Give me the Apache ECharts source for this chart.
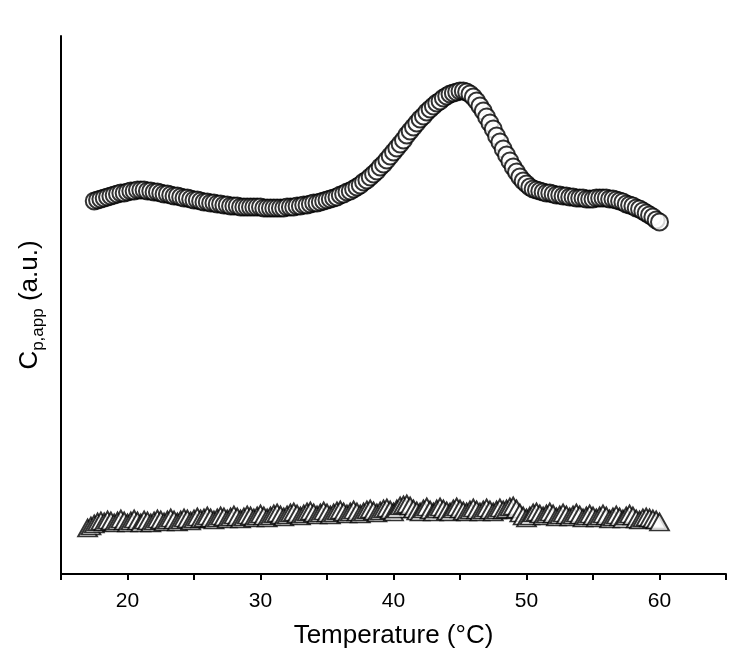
<!DOCTYPE html>
<html>
<head>
<meta charset="utf-8">
<script src="https://cdn.jsdelivr.net/npm/echarts@6/dist/echarts.min.js"></script>
<style>
html,body{margin:0;padding:0;background:#fff;}
#chart{width:750px;height:670px;}
</style>
</head>
<body>
<div id="chart"></div>
<script>
// Circles series (sample)
const circleTemp = [
17.5,17.75,
18,18.25,18.5,18.75,
19,19.25,19.5,19.75,
20,20.25,20.5,20.75,
21,21.25,21.5,21.75,
22,22.25,22.5,22.75,
23,23.25,23.5,23.75,
24,24.25,24.5,24.75,
25,25.25,25.5,25.75,
26,26.25,26.5,26.75,
27,27.25,27.5,27.75,
28,28.25,28.5,28.75,
29,29.25,29.5,29.75,
30,30.25,30.5,30.75,
31,31.25,31.5,31.75,
32,32.25,32.5,32.75,
33,33.25,33.5,33.75,
34,34.25,34.5,34.75,
35,35.25,35.5,35.75,
36,36.25,36.5,36.75,
37,37.25,37.5,37.75,
38,38.25,38.5,38.75,
39,39.25,39.5,39.75,
40,40.25,40.5,40.75,
41,41.25,41.5,41.75,
42,42.25,42.5,42.75,
43,43.25,43.5,43.75,
44,44.25,44.5,44.75,
45,45.25,45.5,45.75,
46,46.25,46.5,46.75,
47,47.25,47.5,47.75,
48,48.25,48.5,48.75,
49,49.25,49.5,49.75,
50,50.25,50.5,50.75,
51,51.25,51.5,51.75,
52,52.25,52.5,52.75,
53,53.25,53.5,53.75,
54,54.25,54.5,54.75,
55,55.25,55.5,55.75,
56,56.25,56.5,56.75,
57,57.25,57.5,57.75,
58,58.25,58.5,58.75,
59,59.25,59.5,59.75,
60];
const circleCp = [
3.73,3.74,
3.75,3.76,3.77,3.78,
3.79,3.80,3.81,3.81,
3.82,3.83,3.83,3.84,
3.84,3.84,3.83,3.83,
3.82,3.82,3.81,3.80,
3.80,3.79,3.78,3.78,
3.77,3.76,3.76,3.75,
3.74,3.74,3.73,3.72,
3.72,3.71,3.71,3.70,
3.70,3.69,3.69,3.68,
3.68,3.68,3.67,3.67,
3.67,3.67,3.67,3.67,
3.67,3.66,3.66,3.66,
3.66,3.66,3.66,3.66,
3.67,3.67,3.67,3.68,
3.68,3.69,3.69,3.70,
3.71,3.71,3.72,3.73,
3.74,3.75,3.76,3.77,
3.79,3.80,3.82,3.83,
3.85,3.87,3.89,3.92,
3.94,3.97,4.00,4.03,
4.07,4.10,4.14,4.18,
4.22,4.26,4.30,4.34,
4.39,4.43,4.47,4.51,
4.55,4.58,4.62,4.65,
4.68,4.71,4.73,4.76,
4.78,4.80,4.81,4.82,
4.83,4.83,4.82,4.80,
4.77,4.73,4.68,4.63,
4.57,4.51,4.45,4.38,
4.32,4.25,4.19,4.13,
4.07,4.02,3.97,3.93,
3.90,3.87,3.85,3.84,
3.83,3.82,3.81,3.81,
3.80,3.79,3.79,3.78,
3.78,3.77,3.77,3.76,
3.76,3.76,3.75,3.75,
3.75,3.76,3.76,3.76,
3.76,3.75,3.75,3.74,
3.73,3.72,3.70,3.69,
3.68,3.66,3.65,3.63,
3.61,3.59,3.57,3.54,
3.52];

// Triangles series (reference)
const triTemp = [
17,17.25,17.5,17.75,
18,18.25,18.5,18.75,
19,19.25,19.5,19.75,
20,20.25,20.5,20.75,
21,21.25,21.5,21.75,
22,22.25,22.5,22.75,
23,23.25,23.5,23.75,
24,24.25,24.5,24.75,
25,25.25,25.5,25.75,
26,26.25,26.5,26.75,
27,27.25,27.5,27.75,
28,28.25,28.5,28.75,
29,29.25,29.5,29.75,
30,30.25,30.5,30.75,
31,31.25,31.5,31.75,
32,32.25,32.5,32.75,
33,33.25,33.5,33.75,
34,34.25,34.5,34.75,
35,35.25,35.5,35.75,
36,36.25,36.5,36.75,
37,37.25,37.5,37.75,
38,38.25,38.5,38.75,
39,39.25,39.5,39.75,
40,40.25,40.5,40.75,
41,41.25,41.5,41.75,
42,42.25,42.5,42.75,
43,43.25,43.5,43.75,
44,44.25,44.5,44.75,
45,45.25,45.5,45.75,
46,46.25,46.5,46.75,
47,47.25,47.5,47.75,
48,48.25,48.5,48.75,
49,49.25,49.5,49.75,
50,50.25,50.5,50.75,
51,51.25,51.5,51.75,
52,52.25,52.5,52.75,
53,53.25,53.5,53.75,
54,54.25,54.5,54.75,
55,55.25,55.5,55.75,
56,56.25,56.5,56.75,
57,57.25,57.5,57.75,
58,58.25,58.5,58.75,
59,59.25,59.5,59.75,
60];
const triCp = [
0.46,0.48,0.50,0.52,
0.53,0.52,0.54,0.53,
0.51,0.53,0.55,0.53,
0.51,0.53,0.55,0.53,
0.51,0.54,0.53,0.51,
0.53,0.55,0.54,0.52,
0.54,0.56,0.54,0.52,
0.54,0.56,0.55,0.53,
0.55,0.57,0.55,0.56,
0.58,0.56,0.54,0.56,
0.58,0.57,0.55,0.57,
0.59,0.57,0.55,0.57,
0.59,0.58,0.56,0.58,
0.60,0.58,0.56,0.58,
0.60,0.61,0.59,0.57,
0.59,0.61,0.62,0.60,
0.58,0.60,0.62,0.63,
0.61,0.59,0.61,0.63,
0.61,0.59,0.61,0.63,
0.64,0.62,0.60,0.62,
0.64,0.62,0.60,0.62,
0.64,0.65,0.63,0.61,
0.63,0.65,0.66,0.64,
0.62,0.65,0.68,0.69,
0.70,0.68,0.65,0.63,
0.62,0.65,0.67,0.64,
0.62,0.65,0.67,0.65,
0.63,0.62,0.65,0.67,
0.65,0.63,0.62,0.64,
0.66,0.64,0.62,0.64,
0.66,0.64,0.62,0.64,
0.66,0.64,0.65,0.67,
0.68,0.65,0.61,0.58,
0.56,0.58,0.61,0.62,
0.60,0.58,0.60,0.62,
0.60,0.57,0.59,0.61,
0.59,0.57,0.59,0.61,
0.59,0.56,0.58,0.60,
0.58,0.56,0.58,0.60,
0.58,0.55,0.57,0.59,
0.57,0.55,0.58,0.60,
0.58,0.55,0.54,0.56,
0.57,0.56,0.55,0.54,
0.52];

const xTickLabels = [20, 30, 40, 50, 60];
const xMin = 15, xMax = 65, xStep = 5;
const yMin = 0, yMax = 5.38;

const zip = (a, b) => a.map((v, i) => [v, b[i]]);
const FONT = '"Liberation Sans", Arial, sans-serif';

const chart = echarts.init(document.getElementById('chart'), null, {renderer: 'canvas'});
chart.setOption({
  animation: false,
  backgroundColor: '#ffffff',
  grid: {left: 61, right: 24, top: 36, bottom: 96, containLabel: false},
  xAxis: {
    type: 'value', min: xMin, max: xMax, interval: xStep,
    name: 'Temperature (°C)', nameLocation: 'middle', nameGap: 49,
    nameTextStyle: {fontFamily: FONT, fontSize: 26, color: '#000'},
    axisLine: {show: true, onZero: false, lineStyle: {color: '#000', width: 2}},
    axisTick: {show: true, length: 6, lineStyle: {color: '#000', width: 2}},
    axisLabel: {
      fontFamily: FONT, fontSize: 21, color: '#000', margin: 17,
      formatter: v => xTickLabels.indexOf(v) >= 0 ? String(v) : ''
    },
    splitLine: {show: false}
  },
  yAxis: {
    type: 'value', min: yMin, max: yMax,
    name: '{c|C}{s|p,app}{c| (a.u.)}', nameLocation: 'middle', nameGap: 14,
    nameTextStyle: {
      fontFamily: FONT, color: '#000',
      rich: {
        c: {fontFamily: FONT, fontSize: 26, color: '#000', lineHeight: 34},
        s: {fontFamily: FONT, fontSize: 17, color: '#000', lineHeight: 14, verticalAlign: 'bottom'}
      }
    },
    axisLine: {show: true, onZero: false, lineStyle: {color: '#000', width: 2}},
    axisTick: {show: false},
    axisLabel: {show: false},
    splitLine: {show: false}
  },
  series: [
    {
      type: 'scatter', name: 'reference',
      data: zip(triTemp, triCp),
      symbol: 'triangle', symbolSize: [19, 17],
      itemStyle: {color: '#ffffff', borderColor: '#000', borderWidth: 1.8}
    },
    {
      type: 'scatter', name: 'sample',
      data: zip(circleTemp, circleCp),
      symbol: 'circle', symbolSize: 17,
      itemStyle: {color: '#ffffff', borderColor: '#000', borderWidth: 2}
    }
  ]
});
</script>
</body>
</html>
